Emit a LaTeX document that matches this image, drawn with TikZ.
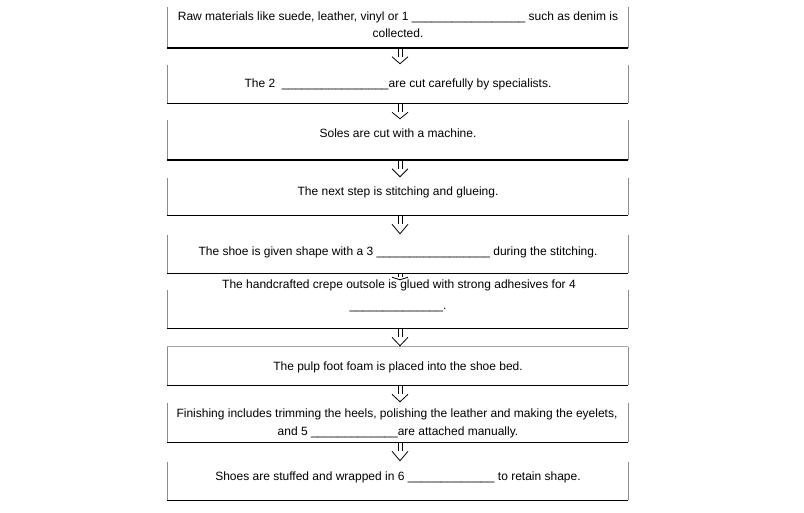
\documentclass[tikz,border=0pt]{standalone}
\usepackage{fontspec}
\setmainfont{Liberation Sans}
\usetikzlibrary{calc}
\begin{document}
\begin{tikzpicture}[x=0.75pt,y=-0.75pt,
  box/.style={rectangle, draw=none, inner sep=0pt, minimum width=345.375pt},
  side/.style={draw=black!45, line width=0.6pt},
  topline/.style={draw=black!35, line width=0.6pt},
  bottomline/.style={draw=black, line width=1.1pt},
  arrowline/.style={draw=black, line width=0.6pt, line join=miter},
  txt/.style={anchor=base, inner sep=0pt, font=\fontsize{9pt}{11pt}\selectfont, text=black}]
\useasboundingbox (0,0) rectangle (804,512);
\fill[white] (0,0) rectangle (804,512);

% boxes
\node[box, minimum height=30pt]     (b1) at (397.75,27.5) {};
\node[box, minimum height=28.5pt]   (b2) at (397.75,84) {};
\node[box, minimum height=29.625pt] (b3) at (397.75,139.75) {};
\node[box, minimum height=27.75pt]  (b4) at (397.75,196.5) {};
\node[box, minimum height=28.5pt]   (b5) at (397.75,254) {};
\node[box, minimum height=35.25pt]  (b6) at (397.75,304.5) {};
\node[box, minimum height=28.5pt]   (b7) at (397.75,366) {};
\node[box, minimum height=29.25pt]  (b8) at (397.75,422.5) {};
\node[box, minimum height=28.5pt]   (b9) at (397.75,481) {};

\foreach \b in {b1,b2,b3,b4,b5,b7,b8,b9}{
  \draw[side] (\b.north west) -- (\b.south west);
  \draw[side] (\b.north east) -- (\b.south east);
}
\draw[side] ($(b6.north west)+(0,9)$) -- (b6.south west);
\draw[side] ($(b6.north east)+(0,9)$) -- (b6.south east);
\foreach \b in {b1,b2,b3,b4,b5,b6,b7,b8,b9}{
  \draw[bottomline] (\b.south west) -- (\b.south east);
}
\draw[topline] (b7.north west) -- (b7.north east);

% texts
\node[txt] (t1a) at (398,20.7) {Raw materials like suede, leather, vinyl or 1 \_\_\_\_\_\_\_\_\_\_\_\_\_\_\_\_\_ such as denim is};
\node[txt] (t1b) at (398,37.3) {collected.};
\node[txt] (t2) at (398,87.3) {The 2~ \_\_\_\_\_\_\_\_\_\_\_\_\_\_\_\_are cut carefully by specialists.};
\node[txt] (t3) at (398,137.3) {Soles are cut with a machine.};
\node[txt] (t4) at (398,195) {The next step is stitching and glueing.};
\node[txt] (t5) at (398,255.7) {The shoe is given shape with a 3 \_\_\_\_\_\_\_\_\_\_\_\_\_\_\_\_\_ during the stitching.};
\node[txt] (t6a) at (399,288.3) {The handcrafted crepe outsole is glued with strong adhesives for 4};
\node[txt] (t6b) at (398,309.5) {\_\_\_\_\_\_\_\_\_\_\_\_\_\_.};
\node[txt] (t7) at (398,370) {The pulp foot foam is placed into the shoe bed.};
\node[txt] (t8a) at (397,417.3) {Finishing includes trimming the heels, polishing the leather and making the eyelets,};
\node[txt] (t8b) at (398,435.7) {and 5 \_\_\_\_\_\_\_\_\_\_\_\_\_are attached manually.};
\node[txt] (t9) at (398,480.7) {Shoes are stuffed and wrapped in 6 \_\_\_\_\_\_\_\_\_\_\_\_\_ to retain shape.};

% arrows (shaft length / head tip)
\foreach \a/\b/\s in {b1/b2/9,b2/b3/9,b3/b4/9,b4/b5/9,b5/b6/4,b6/b7/9,b7/b8/9,b8/b9/9}{
  \draw[arrowline] ($(\a.south)+(0.25,0)$) -- ($(\a.south)+(0.25,\s)$);
  \draw[arrowline] ($(\a.south)+(4.25,0)$) -- ($(\a.south)+(4.25,\s)$);
  \draw[arrowline] ($(\a.south)+(-5.75,\s)$) -- ($(\b.north)+(2.25,-1)$) -- ($(\a.south)+(10.25,\s)$);
}
\end{tikzpicture}
\end{document}
